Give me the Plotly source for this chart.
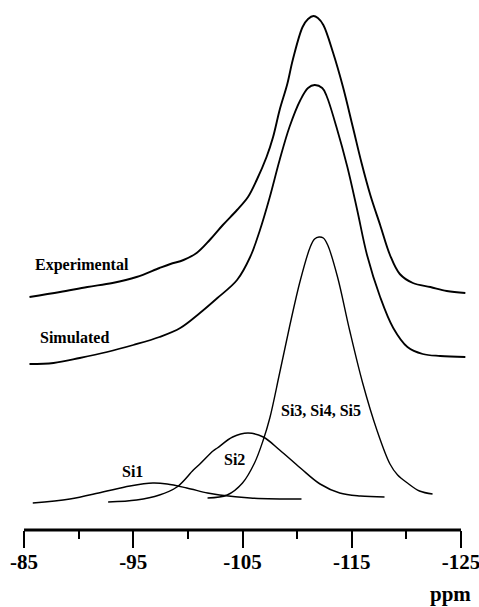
import plotly.graph_objects as go

# Chemical shift (ppm) and intensity (a.u., stacked offsets)
exp_ppm = [-85.5, -88.3, -90.8, -93.1, -95.3, -97.4, -98.4, -99.6, -100.8, -102.0, -103.2,
           -104.5, -105.5, -106.3, -107.2, -107.8, -108.4, -109.1, -109.6, -110.5, -111.0,
           -111.5, -111.9, -112.4, -113.3, -114.2, -115.1, -115.9, -116.7, -117.6, -118.5,
           -119.4, -120.6, -122.2, -123.7, -125.4]
exp_int = [233, 238, 243, 247, 253, 262, 266, 270, 277, 290, 305,
           320, 333, 350, 373, 393, 420, 446, 470, 503, 511,
           514, 512, 505, 477, 443, 403, 367, 335, 305, 275,
           256, 247, 243, 239, 237]

sim_ppm = [-85.5, -87.7, -90.1, -92.6, -95.0, -97.4, -99.3, -101.1, -102.7, -104.5, -105.7,
           -106.6, -107.5, -108.4, -109.3, -110.3, -111.0, -111.6, -112.3, -112.7, -113.6,
           -114.6, -115.5, -116.4, -117.6, -118.8, -120.1, -121.5, -123.1, -125.4]
sim_int = [166, 167, 172, 178, 185, 193, 202, 217, 232, 250, 273,
           300, 333, 370, 403, 430, 442, 445, 442, 434, 403,
           363, 320, 275, 233, 202, 183, 176, 174, 173]

si345_ppm = [-101.8, -103.6, -105.0, -106.1, -106.9, -107.5, -108.4, -109.3, -110.3, -111.2,
             -111.6, -112.0, -112.4, -112.8, -113.7, -114.8, -116.0, -117.3, -118.5, -119.2,
             -120.1, -121.2, -122.4]
si345_int = [32, 35, 47, 67, 90, 112, 157, 203, 250, 283,
             291, 293, 292, 285, 253, 200, 147, 100, 66, 55,
             47, 39, 36]

si2_ppm = [-92.7, -95.3, -97.4, -99.0, -100.5, -101.1, -102.3, -102.7, -104.1, -105.5,
           -106.9, -108.4, -110.3, -112.1, -113.9, -115.8, -118.0]
si2_int = [28, 30, 35, 43, 60, 66, 79, 82, 93, 97,
           93, 80, 62, 46, 37, 34, 33]

si1_ppm = [-85.8, -89.2, -92.2, -94.7, -96.8, -98.1, -99.9, -101.8, -102.9, -105.7, -110.4]
si1_int = [27, 31, 38, 44, 47, 46, 42, 37, 35, 32, 31]

major_ticks = [-85, -95, -105, -115, -125]
minor_ticks = [-90, -100, -110, -120]
tick_labels = ["-85", "-95", "-105", "-115", "-125"]

FONT = "Liberation Serif, Times New Roman, serif"

fig = go.Figure()
series = [
    (exp_ppm, exp_int, 1.9),
    (sim_ppm, sim_int, 1.8),
    (si345_ppm, si345_int, 1.4),
    (si2_ppm, si2_int, 1.5),
    (si1_ppm, si1_int, 1.5),
]
for xs, ys, w in series:
    fig.add_trace(go.Scatter(x=xs, y=ys, mode="lines",
                             line=dict(color="black", width=w, shape="spline", smoothing=1.0),
                             showlegend=False, hoverinfo="skip"))

labels = [
    ("Experimental", -85.82, 265, "left"),
    ("Simulated", -86.28, 193, "left"),
    ("Si1", -94.89, 59, "center"),
    ("Si2", -104.31, 71, "center"),
    ("Si3, Si4, Si5", -108.34, 120, "left"),
]
for txt, x, y, anc in labels:
    fig.add_annotation(x=x, y=y, xref="x", yref="y", text=txt, showarrow=False,
                       xanchor=anc, yanchor="middle",
                       font=dict(family=FONT, size=16, color="black", weight="bold"))

fig.add_annotation(x=-124.08, y=-0.1208, xref="x", yref="paper", text="ppm", showarrow=False,
                   xanchor="center", yanchor="middle",
                   font=dict(family=FONT, size=21, color="black", weight="bold"))

# axis baseline spanning the labelled range
fig.add_shape(type="line", xref="x", yref="paper", x0=major_ticks[0], x1=major_ticks[-1],
              y0=0, y1=0, line=dict(color="black", width=3))

fig.update_layout(
    width=479, height=607,
    margin=dict(l=0, r=0, t=0, b=77),
    paper_bgcolor="white", plot_bgcolor="white",
    xaxis=dict(range=[-82.80, -126.65], showgrid=False, zeroline=False, showline=False,
               tickmode="array", tickvals=major_ticks, ticktext=tick_labels,
               ticks="outside", ticklen=17, tickwidth=2, tickcolor="black",
               ticklabelstandoff=-4, ticklabeloverflow="allow",
               tickfont=dict(family=FONT, size=21, color="black", weight="bold"),
               minor=dict(tickmode="array", tickvals=minor_ticks, ticks="outside",
                          ticklen=8, tickwidth=2, tickcolor="black", showgrid=False)),
    yaxis=dict(range=[0, 530], visible=False, showgrid=False, zeroline=False),
)

fig.write_html("out.html")
